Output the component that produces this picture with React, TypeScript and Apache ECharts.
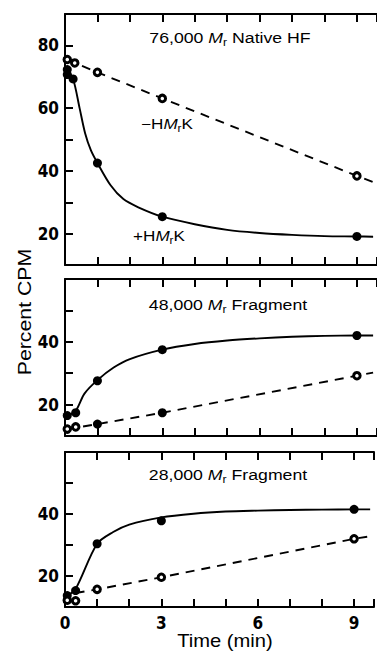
import React, { useEffect, useRef } from "react";
import * as echarts from "echarts";

// ---------- data (time in min, value in percent CPM) ----------
// Panel 1: 76,000 Mr Native HF
const p1PlusPts = [[0.07, 72.3], [0.07, 70.7], [0.25, 69.3], [1, 42.5], [3, 25.4], [9, 19.1]];
const p1PlusCurve = [[0.07, 72], [0.25, 69.3], [0.45, 60], [0.62, 52], [0.8, 46.5], [1, 42.5], [1.4, 35.5], [1.8, 31], [2.26, 28.4], [3, 25.4], [4, 23], [5, 21.2], [6, 20.2], [7, 19.6], [8, 19.2], [9, 19.1], [9.5, 19]];
const p1MinusPts = [[0.07, 75.5], [0.3, 74.4], [1, 71.4], [3, 63.1], [9, 38.4]];
const p1MinusLine = [[0.07, 75.5], [1, 71.4], [3, 63.1], [9, 38.4], [9.5, 36.4]];

// Panel 2: 48,000 Mr Fragment
const p2PlusPts = [[0.07, 16.5], [0.33, 17.4], [1, 27.6], [3, 37.5], [9, 42]];
const p2PlusCurve = [[0.07, 16.5], [0.33, 18], [0.6, 23.5], [1, 27.8], [1.5, 31.8], [2, 34.5], [3, 37.5], [4, 39.3], [5, 40.4], [6, 41.1], [7, 41.6], [8, 41.9], [9, 42], [9.5, 42]];
const p2MinusOpen = [[0.07, 12.2], [0.33, 12.9], [9, 29.2]];
const p2MinusFilled = [[1, 13.8], [3, 17.4]];
const p2MinusLine = [[0.07, 12.2], [1, 13.8], [3, 17.4], [9, 29.2], [9.5, 30.2]];

// Panel 3: 28,000 Mr Fragment
const p3PlusPts = [[0.07, 13.7], [0.33, 15.3], [1, 30.4], [3, 37.8], [9, 41.5]];
const p3PlusCurve = [[0.07, 13.7], [0.33, 15.8], [1, 30.4], [1.5, 34.2], [2, 36.6], [3, 38.9], [4, 40.1], [5, 40.8], [6, 41.1], [7, 41.3], [8, 41.4], [9, 41.5], [9.5, 41.5]];
const p3MinusOpen = [[0.07, 12.2], [0.33, 12], [1, 15.7], [3, 19.6], [9, 32]];
const p3MinusLine = [[0.33, 14.5], [1, 15.7], [3, 19.6], [9, 32], [9.5, 32.8]];

const yRanges = [[10, 90], [10, 60], [10, 60]];
const xTickLabels = [0, 3, 6, 9];
const yTickLabels = [20, 40, 60, 80];
const panelTitles = ["76,000 ", "48,000 ", "28,000 "];
const panelSuffix = [" Native HF", " Fragment", " Fragment"];

const FONT = '"Liberation Sans", Arial, Helvetica, sans-serif';
const TICKFONT = '"Liberation Sans Narrow", "DejaVu Sans Condensed", "Liberation Sans", sans-serif';

export default function App() {
  const ref = useRef<HTMLDivElement>(null);
  useEffect(() => {
    if (!ref.current) return;
    const chart = echarts.init(ref.current, null, { renderer: "svg" });
    const grids = [
      { left: 65, top: 14, width: 312, height: 251 },
      { left: 65, top: 279, width: 312, height: 157 },
      { left: 65, top: 452, width: 312, height: 155 },
    ];
    const axisLine = { show: true, onZero: false, lineStyle: { color: "#000", width: 2 } };
    const axisTick = { show: true, inside: true, length: 8, lineStyle: { color: "#000", width: 2 } };
    const xAxes: any[] = [];
    const yAxes: any[] = [];
    grids.forEach((_, i) => {
      ["bottom", "top"].forEach((pos) => {
        xAxes.push({
          gridIndex: i,
          type: "value",
          position: pos,
          min: 0,
          max: 9.62,
          interval: 1,
          axisLine,
          axisTick,
          splitLine: { show: false },
          axisLabel: {
            show: pos === "bottom" && i === 2,
            margin: 7,
            color: "#000",
            fontFamily: TICKFONT,
            fontWeight: "bold",
            fontSize: 17,
            formatter: (v: number) => (xTickLabels.includes(v) ? String(v) : ""),
          },
        });
      });
      yAxes.push({
        gridIndex: i,
        type: "value",
        min: yRanges[i][0],
        max: yRanges[i][1],
        interval: 10,
        axisLine,
        axisTick,
        splitLine: { show: false },
        axisLabel: {
          margin: 6,
          color: "#000",
          fontFamily: TICKFONT,
          fontWeight: "bold",
          fontSize: 17,
          formatter: (v: number) =>
            yTickLabels.includes(v) && v < yRanges[i][1] ? String(v) : "",
        },
      });
    });

    const curve = (gi: number, data: number[][], dashed: boolean, smooth: number | boolean) => ({
      type: "line",
      xAxisIndex: gi * 2,
      yAxisIndex: gi,
      data,
      smooth,
      showSymbol: false,
      symbol: "none",
      lineStyle: { color: "#000", width: 1.9, type: dashed ? [9, 7] : "solid" },
      z: 2,
    });
    const filled = (gi: number, data: number[][]) => ({
      type: "scatter",
      xAxisIndex: gi * 2,
      yAxisIndex: gi,
      data,
      symbol: "circle",
      symbolSize: 9,
      itemStyle: { color: "#000", opacity: 1 },
      z: 4,
    });
    const open = (gi: number, data: number[][]) => ({
      type: "scatter",
      xAxisIndex: gi * 2,
      yAxisIndex: gi,
      data,
      symbol: "circle",
      symbolSize: 6.5,
      itemStyle: { color: "#fff", borderColor: "#000", borderWidth: 3, opacity: 1 },
      z: 4,
    });

    const series = [
      curve(0, p1PlusCurve, false, 0.3),
      curve(0, p1MinusLine, true, false),
      filled(0, p1PlusPts),
      open(0, p1MinusPts),
      curve(1, p2PlusCurve, false, 0.3),
      curve(1, p2MinusLine, true, false),
      filled(1, p2PlusPts),
      open(1, p2MinusOpen),
      filled(1, p2MinusFilled),
      curve(2, p3PlusCurve, false, 0.3),
      curve(2, p3MinusLine, true, false),
      filled(2, p3PlusPts),
      open(2, p3MinusOpen),
    ];

    const rich = {
      n: { fontFamily: FONT, fontSize: 14.5, fill: "#000", lineHeight: 18 },
      i: { fontFamily: FONT, fontSize: 14.5, fontStyle: "italic", fill: "#000", lineHeight: 18 },
      s: { fontFamily: FONT, fontSize: 10, fill: "#000", lineHeight: 12, verticalAlign: "bottom" },
    };
    const titlePos = [[230, 38], [228, 305], [228, 475]];
    const graphic: any[] = titlePos.map((p, i) => ({
      type: "text",
      x: p[0],
      y: p[1],
      scaleX: 1.22,
      style: {
        text: `{n|${panelTitles[i]}}{i|M}{s|r}{n|${panelSuffix[i]}}`,
        rich,
        textAlign: "center",
        textVerticalAlign: "middle",
      },
    }));
    graphic.push(
      {
        type: "text",
        x: 167,
        y: 124,
        scaleX: 1.18,
        style: { text: "{n|−H}{i|M}{s|r}{n|K}", rich, textAlign: "center", textVerticalAlign: "middle" },
      },
      {
        type: "text",
        x: 159,
        y: 236,
        scaleX: 1.18,
        style: { text: "{n|+H}{i|M}{s|r}{n|K}", rich, textAlign: "center", textVerticalAlign: "middle" },
      },
      {
        type: "text",
        x: 25,
        y: 312,
        rotation: Math.PI / 2,
        scaleX: 1.15,
        style: {
          text: "Percent CPM",
          fontFamily: FONT,
          fontSize: 18.5,
          fill: "#000",
          textAlign: "center",
          textVerticalAlign: "middle",
        },
      },
      {
        type: "text",
        x: 225,
        y: 641,
        scaleX: 1.12,
        style: {
          text: "Time (min)",
          fontFamily: FONT,
          fontSize: 18,
          fill: "#000",
          textAlign: "center",
          textVerticalAlign: "middle",
        },
      }
    );

    chart.setOption({
      animation: false,
      backgroundColor: "#fff",
      grid: grids,
      xAxis: xAxes,
      yAxis: yAxes,
      series,
      graphic,
    });
    return () => chart.dispose();
  }, []);
  return (
    <div
      ref={ref}
      style={{ position: "fixed", left: 0, top: 0, width: 377, height: 652 }}
    />
  );
}
